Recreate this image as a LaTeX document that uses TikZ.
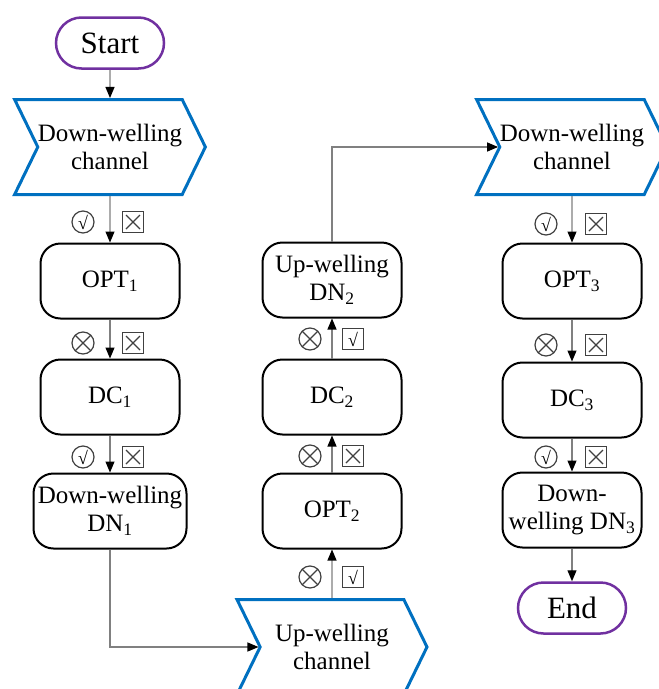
\documentclass[tikz,border=0pt]{standalone}
\usepackage{fontspec}
\setmainfont{LiberationSerif}[Extension=.ttf, UprightFont=*-Regular, BoldFont=*-Bold, ItalicFont=*-Italic, BoldItalicFont=*-BoldItalic]
\usetikzlibrary{arrows.meta,calc,positioning,shapes.misc,shapes.symbols}
\definecolor{termpurple}{RGB}{112,48,160}
\definecolor{chanblue}{RGB}{0,112,192}
\tikzset{
  term/.style={draw=termpurple, line width=2.5pt, rounded rectangle, minimum width=108pt, minimum height=51pt, inner sep=0pt, font=\fontsize{31}{34}\selectfont},
  chan/.style={signal, signal from=west, signal to=east, signal pointer angle=128, draw=chanblue, line width=3pt, minimum width=190pt, minimum height=95pt, inner sep=0pt, align=center, font=\fontsize{25}{28}\selectfont},
  proc/.style={draw, line width=2pt, rounded corners=20pt, minimum width=139pt, minimum height=75pt, inner sep=0pt, align=center, font=\fontsize{25}{28}\selectfont},
  flow/.style={draw=gray, line width=1.2pt, -{Triangle[length=11pt,width=9pt,color=black]}},
  okcirc/.style={circle, draw=black!75, line width=1.2pt, minimum size=22pt, inner sep=0pt, font=\fontsize{18}{18}\selectfont},
  xcirc/.style={circle, draw=black!75, line width=1.2pt, minimum size=22pt, inner sep=0pt,
    path picture={\draw[black!75, line width=1.2pt] (path picture bounding box.center) +(45:11pt) -- +(225:11pt) +(135:11pt) -- +(315:11pt);}},
  okbox/.style={rectangle, draw=black!75, line width=1.2pt, minimum size=21pt, inner sep=0pt, font=\fontsize{18}{18}\selectfont},
  xbox/.style={rectangle, draw=black!75, line width=1.2pt, minimum size=21pt, inner sep=0pt,
    path picture={\draw[black!75, line width=1.2pt] ([shift={(3.5pt,3.5pt)}]path picture bounding box.south west) -- ([shift={(-3.5pt,-3.5pt)}]path picture bounding box.north east)
      ([shift={(-3.5pt,3.5pt)}]path picture bounding box.south east) -- ([shift={(3.5pt,-3.5pt)}]path picture bounding box.north west);}}
}
\begin{document}
\begin{tikzpicture}[x=1pt, y=-1pt]
\useasboundingbox (0,0) rectangle (659,689);
% Left column
\node[term] (start) at (110,43) {Start};
\node[chan] (ch1) at (110,147) {Down-welling\\channel};
\node[proc] (opt1) at (110,281) {OPT\textsubscript{1}};
\node[proc] (dc1) at (110,397) {DC\textsubscript{1}};
\node[proc, minimum width=153pt] (dn1) at (110,511) {Down-welling\\DN\textsubscript{1}};
% Middle column
\node[chan] (upch) at (332,647) {Up-welling\\channel};
\node[proc] (opt2) at (332,511) {OPT\textsubscript{2}};
\node[proc] (dc2) at (332,397) {DC\textsubscript{2}};
\node[proc] (dn2) at (332,280) {Up-welling\\DN\textsubscript{2}};
% Right column
\node[chan] (ch2) at (572,147) {Down-welling\\channel};
\node[proc] (opt3) at (572,281) {OPT\textsubscript{3}};
\node[proc] (dc3) at (572,400) {DC\textsubscript{3}};
\node[proc] (dn3) at (572,510) {Down-\\welling DN\textsubscript{3}};
\node[term] (end) at (572,608) {End};
% Connectors
\draw[flow] (start) -- (ch1);
\draw[flow] (ch1) -- (opt1);
\draw[flow] (opt1) -- (dc1);
\draw[flow] (dc1) -- (dn1);
\draw[flow] (dn1) |- (upch);
\draw[flow] (upch) -- (opt2);
\draw[flow] (opt2) -- (dc2);
\draw[flow] (dc2) -- (dn2);
\draw[flow] (dn2) |- (ch2);
\draw[flow] (ch2) -- (opt3);
\draw[flow] (opt3) -- (dc3);
\draw[flow] (dc3) -- (dn3);
\draw[flow] (dn3) -- (end);
% Marks
\node[okcirc] (m1a) at (83,222) {√};
\node[xbox] (m1b) at (133,222) {};
\node[xcirc] (m2a) at (83,343) {};
\node[xbox] (m2b) at (133,343) {};
\node[okcirc] (m3a) at (83,457) {√};
\node[xbox] (m3b) at (133,457) {};
\node[xcirc] (m4a) at (310,577) {};
\node[okbox] (m4b) at (353,577) {√};
\node[xcirc] (m5a) at (310,456) {};
\node[xbox] (m5b) at (353,456) {};
\node[xcirc] (m6a) at (310,339) {};
\node[okbox] (m6b) at (353,339) {√};
\node[okcirc] (m7a) at (546,224) {√};
\node[xbox] (m7b) at (596,224) {};
\node[xcirc] (m8a) at (546,345) {};
\node[xbox] (m8b) at (596,345) {};
\node[okcirc] (m9a) at (546,457) {√};
\node[xbox] (m9b) at (596,457) {};
\end{tikzpicture}
\end{document}
